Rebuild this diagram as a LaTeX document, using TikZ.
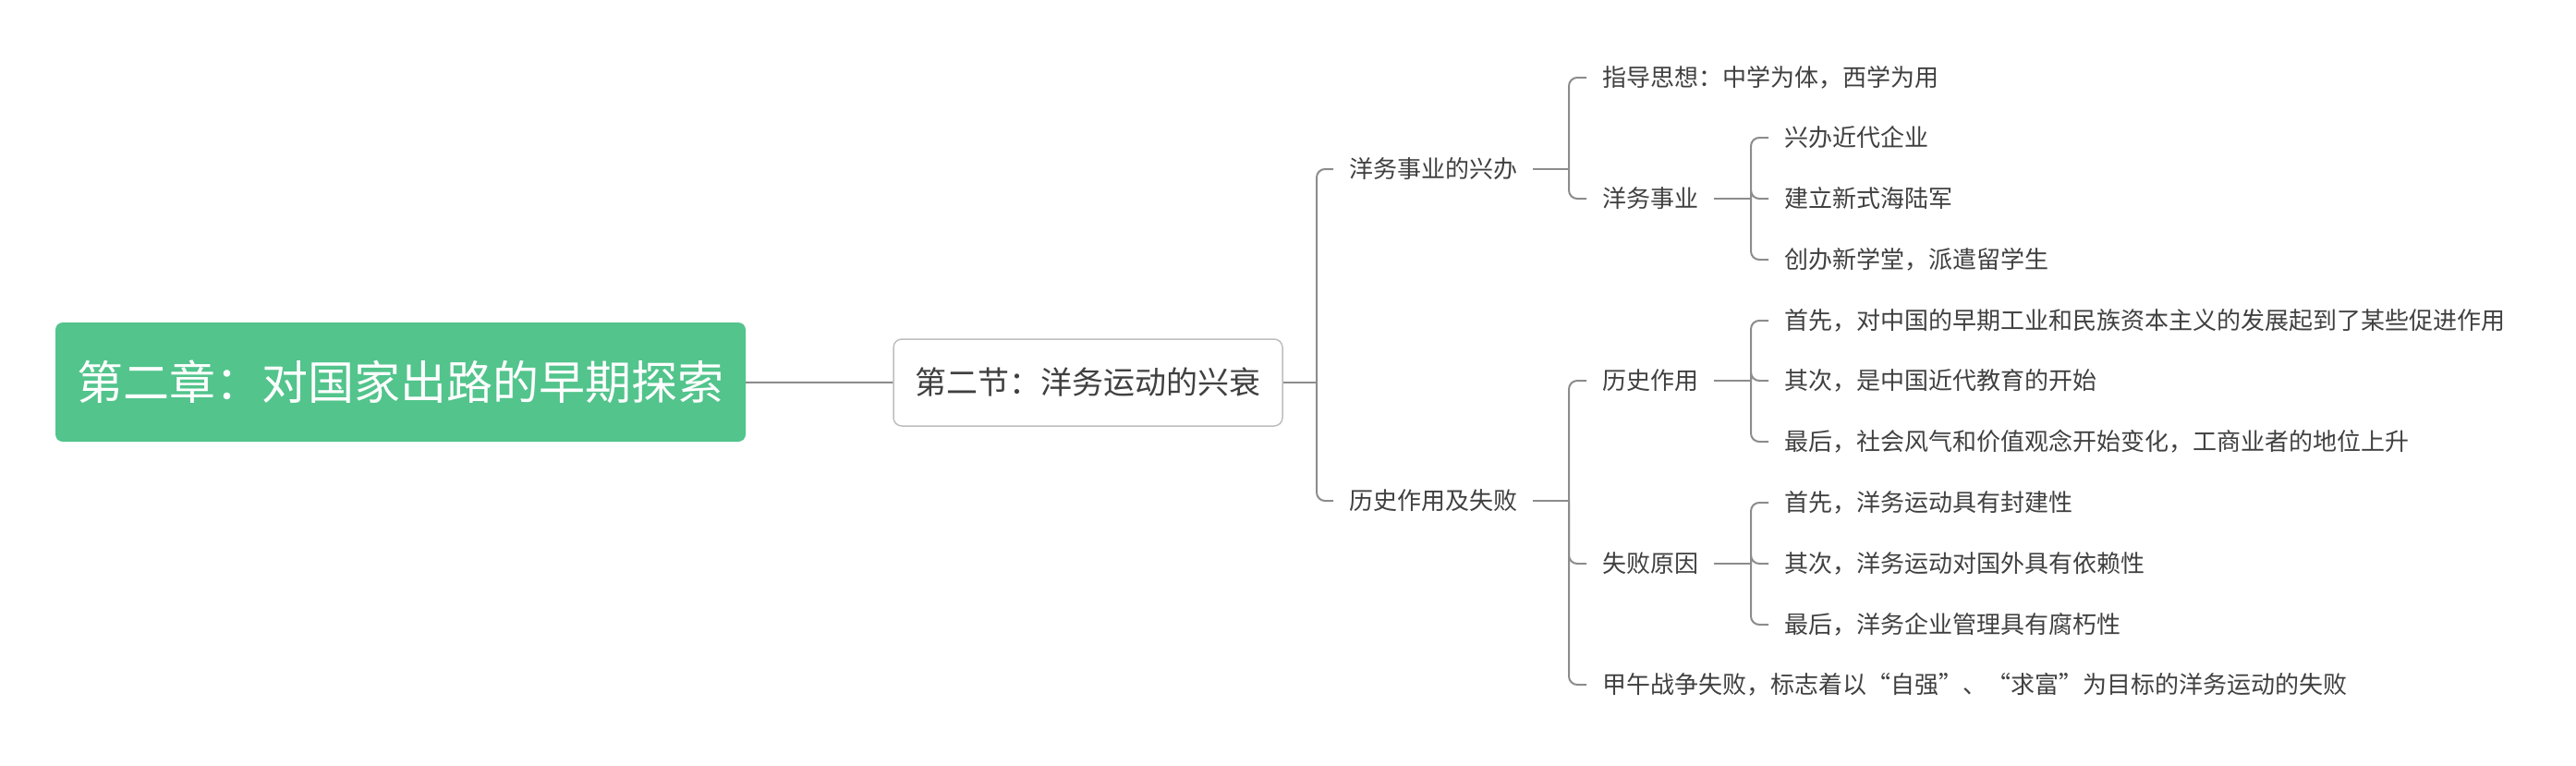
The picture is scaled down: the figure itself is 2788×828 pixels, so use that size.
\documentclass[tikz,border=0pt]{standalone}
\usepackage{fontspec}
\setmainfont{Noto Sans CJK SC}
\usepackage{tikz}

\definecolor{rootgreen}{RGB}{82,196,140}
\definecolor{linegray}{RGB}{140,140,140}
\definecolor{boxgray}{RGB}{190,190,190}
\definecolor{txtgray}{RGB}{64,64,64}

\begin{document}
\begin{tikzpicture}[x=1pt,y=-1pt,
  rootbox/.style={fill=rootgreen,text=white,rounded corners=8pt,minimum width=747pt,minimum height=129pt,inner sep=0pt,font=\fontsize{50}{60}\selectfont},
  secbox/.style={draw=boxgray,line width=1.5pt,fill=white,rounded corners=9pt,minimum width=421pt,minimum height=94pt,inner sep=0pt,text=txtgray,font=\fontsize{34}{40}\selectfont},
  topic/.style={anchor=west,text=txtgray,inner xsep=17pt,inner ysep=2pt,font=\fontsize{26}{32}\selectfont},
  link/.style={linegray,line width=2pt},
  curvelink/.style={link,rounded corners=9pt}]
  \useasboundingbox (0,0) rectangle (2788,828);

  % Main topics
  \node[rootbox] (root) at (433.5,413.5) {第二章：对国家出路的早期探索};
  \node[secbox] (sec) at (1177.5,414) {第二节：洋务运动的兴衰};

  % Second level
  \node[topic] (yw) at (1443,183) {洋务事业的兴办};
  \node[topic] (ls) at (1443,542) {历史作用及失败};

  % Third level
  \node[topic] (zd) at (1717,84) {指导思想：中学为体，西学为用};
  \node[topic] (ywsy) at (1717,215) {洋务事业};
  \node[topic] (lszy) at (1717,412) {历史作用};
  \node[topic] (sbyy) at (1717,610) {失败原因};
  \node[topic] (jw) at (1717,741) {甲午战争失败，标志着以“自强”、“求富”为目标的洋务运动的失败};

  % Leaves
  \node[topic] (qy) at (1914,149) {兴办近代企业};
  \node[topic] (hj) at (1914,215) {建立新式海陆军};
  \node[topic] (xt) at (1914,281) {创办新学堂，派遣留学生};
  \node[topic] (zy1) at (1914,347) {首先，对中国的早期工业和民族资本主义的发展起到了某些促进作用};
  \node[topic] (zy2) at (1914,412) {其次，是中国近代教育的开始};
  \node[topic] (zy3) at (1914,478) {最后，社会风气和价值观念开始变化，工商业者的地位上升};
  \node[topic] (sb1) at (1914,544) {首先，洋务运动具有封建性};
  \node[topic] (sb2) at (1914,610) {其次，洋务运动对国外具有依赖性};
  \node[topic] (sb3) at (1914,676) {最后，洋务企业管理具有腐朽性};

  % Junctions
  \coordinate (jsec) at (1425,414);
  \coordinate (jyw) at (1698,183);
  \coordinate (jls) at (1698,542);
  \coordinate (jywsy) at (1895,215);
  \coordinate (jlszy) at (1895,412);
  \coordinate (jsbyy) at (1895,610);

  % Connectors
  \draw[link] (root) -- (sec);
  \draw[link] (sec) -- (jsec);
  \draw[curvelink] (jsec) |- (yw.west);
  \draw[curvelink] (jsec) |- (ls.west);

  \draw[link] (yw.east) -- (jyw);
  \draw[curvelink] (jyw) |- (zd.west);
  \draw[curvelink] (jyw) |- (ywsy.west);

  \draw[link] (ls.east) -- (jls);
  \draw[curvelink] (jls) |- (lszy.west);
  \draw[curvelink] (jls) |- (sbyy.west);
  \draw[curvelink] (jls) |- (jw.west);

  \draw[link] (ywsy.east) -- (jywsy);
  \draw[curvelink] (jywsy) |- (qy.west);
  \draw[curvelink] (jywsy) |- (hj.west);
  \draw[curvelink] (jywsy) |- (xt.west);

  \draw[link] (lszy.east) -- (jlszy);
  \draw[curvelink] (jlszy) |- (zy1.west);
  \draw[curvelink] (jlszy) |- (zy2.west);
  \draw[curvelink] (jlszy) |- (zy3.west);

  \draw[link] (sbyy.east) -- (jsbyy);
  \draw[curvelink] (jsbyy) |- (sb1.west);
  \draw[curvelink] (jsbyy) |- (sb2.west);
  \draw[curvelink] (jsbyy) |- (sb3.west);
\end{tikzpicture}
\end{document}
